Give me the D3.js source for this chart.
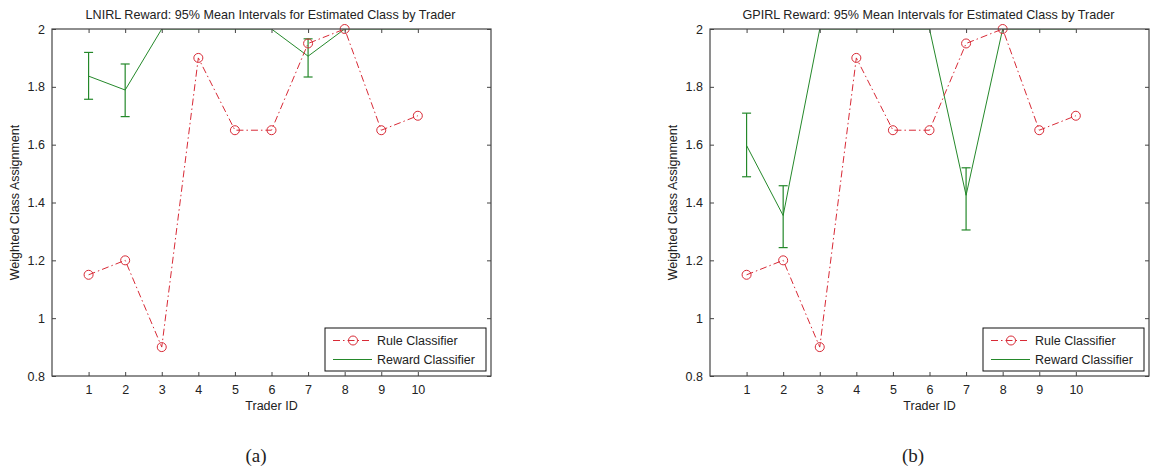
<!DOCTYPE html>
<html>
<head>
<meta charset="utf-8">
<script src="https://cdn.jsdelivr.net/npm/d3@7"></script>
<style>
  body { margin: 0; background: #fff; }
  text { font-family: "Liberation Sans", Arial, sans-serif; fill: #222; }
</style>
</head>
<body>
<script>
'use strict';

// trader ids and tick labels
const traders = [1, 2, 3, 4, 5, 6, 7, 8, 9, 10];
const yTicks = [0.8, 1, 1.2, 1.4, 1.6, 1.8, 2];

// rule classifier (same in both panels)
const ruleValues = [1.15, 1.2, 0.9, 1.9, 1.65, 1.65, 1.95, 2.0, 1.65, 1.7];

// LNIRL reward classifier: mean and 95% interval
const lnirlMean = [1.837, 1.789, 2, 2, 2, 2, 1.906, 2, 2, 2];
const lnirlLow  = [1.757, 1.697, 2, 2, 2, 2, 1.834, 2, 2, 2];
const lnirlHigh = [1.919, 1.879, 2, 2, 2, 2, 1.966, 2, 2, 2];

// GPIRL reward classifier: mean and 95% interval
const gpirlMean = [1.597, 1.355, 2, 2, 2, 2, 1.425, 2, 2, 2];
const gpirlLow  = [1.489, 1.244, 2, 2, 2, 2, 1.305, 2, 2, 2];
const gpirlHigh = [1.709, 1.458, 2, 2, 2, 2, 1.52, 2, 2, 2];

const legendLabels = ["Rule Classifier", "Reward Classifier"];

const red = "#d82a36";
const green = "#24882a";
const boxColor = "#444";

const svg = d3.select("body").append("svg")
  .attr("width", 1151)
  .attr("height", 470);

drawPanel(52, "LNIRL Reward: 95% Mean Intervals for Estimated Class by Trader",
  lnirlMean, lnirlLow, lnirlHigh, "(a)", 256, 15, "clipA");
drawPanel(710, "GPIRL Reward: 95% Mean Intervals for Estimated Class by Trader",
  gpirlMean, gpirlLow, gpirlHigh, "(b)", 913, 673, "clipB");

function drawPanel(left, title, mean, low, high, caption, captionX, yLabelX, clipId) {
  const top = 29, bottom = 376, width = 439;
  const g = svg.append("g");

  // scales
  let x = d3.scaleLinear().domain([0, 12]).range([left, left + width]);
  let y = d3.scaleLinear().domain([0.8, 2]).range([bottom, top]);

  g.append("clipPath").attr("id", clipId)
    .append("rect")
      .attr("x", left).attr("y", top)
      .attr("width", width).attr("height", bottom - top);

  // plot area
  const plot = g.append("g").attr("clip-path", "url(#" + clipId + ")");

  // reward classifier line and error bars
  const rewardRows = traders.map((t, i) => ({ t: t, m: mean[i], lo: low[i], hi: high[i] }));
  plot.append("path")
    .datum(rewardRows)
    .attr("fill", "none")
    .attr("stroke", green)
    .attr("stroke-width", 1)
    .attr("d", d3.line().x(d => x(d.t)).y(d => y(d.m)));

  const bars = plot.selectAll(".ebar")
    .data(rewardRows.filter(d => d.hi > d.lo))
    .enter().append("g")
    .attr("stroke", green)
    .attr("stroke-width", 1.2);
  bars.append("line")
    .attr("x1", d => x(d.t)).attr("x2", d => x(d.t))
    .attr("y1", d => y(d.lo)).attr("y2", d => y(d.hi));
  bars.append("line")
    .attr("x1", d => x(d.t) - 4.5).attr("x2", d => x(d.t) + 4.5)
    .attr("y1", d => y(d.lo)).attr("y2", d => y(d.lo));
  bars.append("line")
    .attr("x1", d => x(d.t) - 4.5).attr("x2", d => x(d.t) + 4.5)
    .attr("y1", d => y(d.hi)).attr("y2", d => y(d.hi));

  // rule classifier dash-dot line with circles
  g.append("path")
    .datum(traders.map((t, i) => [t, ruleValues[i]]))
    .attr("fill", "none")
    .attr("stroke", red)
    .attr("stroke-width", 1)
    .attr("stroke-dasharray", "7,3,1.5,3")
    .attr("d", d3.line().x(d => x(d[0])).y(d => y(d[1])));

  g.selectAll(".dot")
    .data(traders.map((t, i) => [t, ruleValues[i]]))
    .enter().append("circle")
      .attr("cx", d => x(d[0]))
      .attr("cy", d => y(d[1]))
      .attr("r", 4.5)
      .attr("fill", "none")
      .attr("stroke", red)
      .attr("stroke-width", 1);

  // axes: ticks inside the box on all four sides
  const xBottom = d3.axisBottom(x).tickValues(traders).tickSizeInner(-4).tickSizeOuter(0).tickPadding(9);
  const xTop = d3.axisTop(x).tickValues(traders).tickSizeInner(-4).tickSizeOuter(0).tickFormat("");
  const yLeft = d3.axisLeft(y).tickValues(yTicks).tickSizeInner(-4).tickSizeOuter(0).tickPadding(7)
    .tickFormat(d3.format("~g"));
  const yRight = d3.axisRight(y).tickValues(yTicks).tickSizeInner(-4).tickSizeOuter(0).tickFormat("");

  const axes = [
    [xBottom, "translate(0," + bottom + ")"],
    [xTop, "translate(0," + top + ")"],
    [yLeft, "translate(" + left + ",0)"],
    [yRight, "translate(" + (left + width) + ",0)"]
  ];
  axes.forEach(a => {
    const ax = g.append("g").attr("transform", a[1]).call(a[0]);
    ax.select(".domain").remove();
    ax.selectAll("line").attr("stroke", boxColor);
    ax.selectAll("text")
      .style("font-size", "12.5px")
      .style("font-family", "'Liberation Sans', Arial, sans-serif")
      .attr("fill", "#222");
  });

  // box
  g.append("rect")
    .attr("x", left).attr("y", top)
    .attr("width", width).attr("height", bottom - top)
    .attr("fill", "none")
    .attr("stroke", boxColor)
    .attr("stroke-width", 1.2);

  // title and labels
  g.append("text")
    .attr("x", left + width / 2 - 1).attr("y", 19)
    .attr("text-anchor", "middle")
    .style("font-size", "12.6px")
    .text(title);

  g.append("text")
    .attr("x", left + width / 2).attr("y", 410)
    .attr("text-anchor", "middle")
    .style("font-size", "12.5px")
    .text("Trader ID");

  g.append("text")
    .attr("transform", "translate(" + (yLabelX + 4) + "," + (top + bottom) / 2 + ")rotate(-90)")
    .attr("text-anchor", "middle")
    .style("font-size", "12.5px")
    .text("Weighted Class Assignment");

  // legend
  const lx = left + width - 166, ly = 328;
  const legend = g.append("g");
  legend.append("rect")
    .attr("x", lx).attr("y", ly)
    .attr("width", 161).attr("height", 43)
    .attr("fill", "#fff")
    .attr("stroke", "#111")
    .attr("stroke-width", 1);

  legend.append("line")
    .attr("x1", lx + 8).attr("x2", lx + 47)
    .attr("y1", ly + 12.5).attr("y2", ly + 12.5)
    .attr("stroke", red)
    .attr("stroke-dasharray", "7,3,1.5,3");
  legend.append("circle")
    .attr("cx", lx + 28).attr("cy", ly + 12.5).attr("r", 4.5)
    .attr("fill", "none").attr("stroke", red);
  legend.append("line")
    .attr("x1", lx + 8).attr("x2", lx + 47)
    .attr("y1", ly + 31.5).attr("y2", ly + 31.5)
    .attr("stroke", green);

  legendLabels.forEach((label, i) => {
    legend.append("text")
      .attr("x", lx + 52).attr("y", ly + 17 + i * 19)
      .style("font-size", "12.5px")
      .text(label);
  });

  // caption
  g.append("text")
    .attr("x", captionX).attr("y", 462)
    .attr("text-anchor", "middle")
    .style("font-family", "'Liberation Serif', 'Times New Roman', serif")
    .style("font-size", "19px")
    .attr("fill", "#000")
    .text(caption);
}
</script>
</body>
</html>
